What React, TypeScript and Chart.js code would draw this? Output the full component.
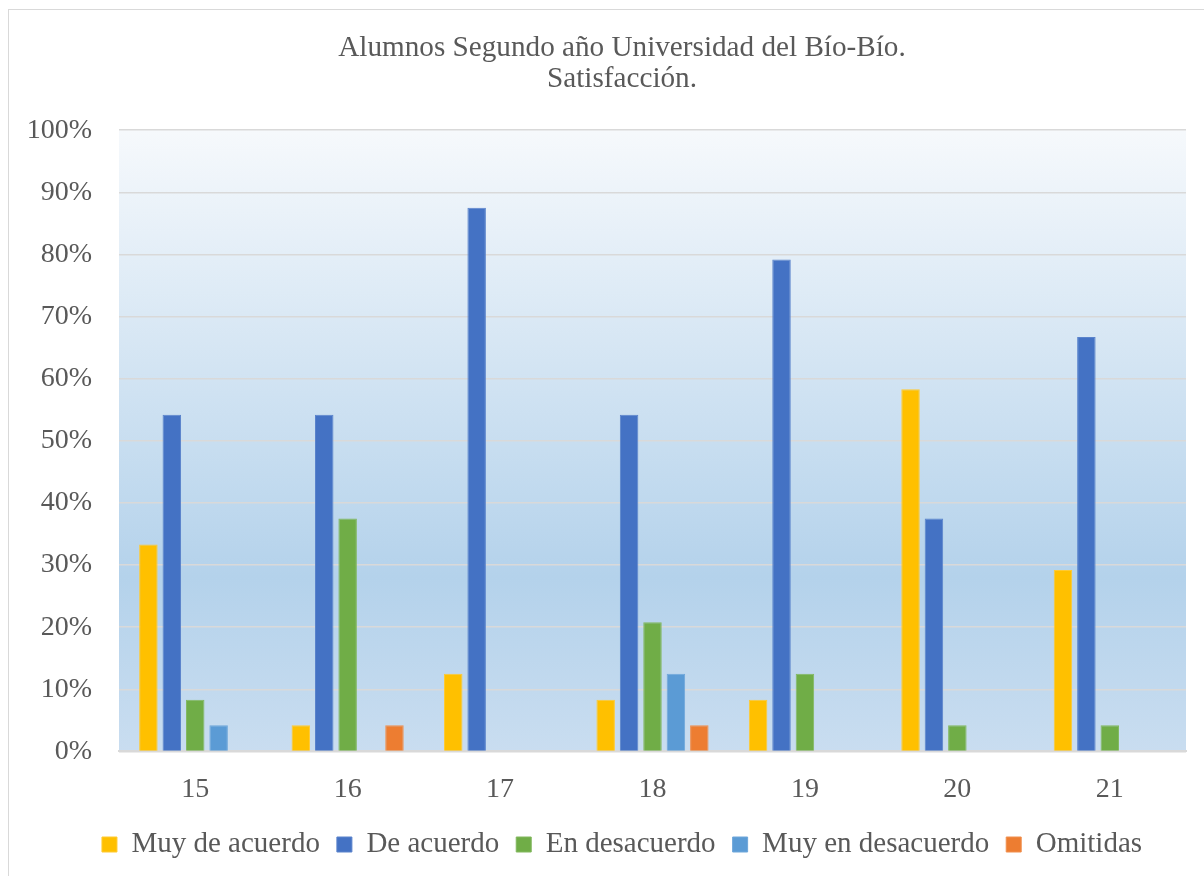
import React, { useEffect, useRef } from "react";
import { Chart, registerables } from "chart.js";

Chart.register(...registerables);

const categories = ["15", "16", "17", "18", "19", "20", "21"];
const seriesNames = ["Muy de acuerdo", "De acuerdo", "En desacuerdo", "Muy en desacuerdo", "Omitidas"];
const muyDeAcuerdo = [33.3, 4.2, 12.5, 8.3, 8.3, 58.3, 29.2];
const deAcuerdo = [54.2, 54.2, 87.5, 54.2, 79.2, 37.5, 66.7];
const enDesacuerdo = [8.3, 37.5, 0, 20.8, 12.5, 4.2, 4.2];
const muyEnDesacuerdo = [4.2, 0, 0, 12.5, 0, 0, 0];
const omitidas = [0, 4.2, 0, 4.2, 0, 0, 0];
const seriesColors = ["#FFC000", "#4472C4", "#70AD47", "#5B9BD5", "#ED7D31"];
const seriesBorders = ["#FFCA33", "#5A83CB", "#82B85F", "#6FA7DA", "#F08F4E"];
const titleLines = ["Alumnos Segundo año Universidad del Bío-Bío.", "Satisfacción."];

const FONT = "'Liberation Serif', 'Times New Roman', serif";
const TEXT = "#595959";

const plotBg = {
  id: "plotBg",
  beforeDraw(chart: any) {
    const { ctx, chartArea } = chart;
    if (!chartArea) return;
    const g = ctx.createLinearGradient(0, chartArea.top, 0, chartArea.bottom);
    g.addColorStop(0, "#f6f9fc");
    g.addColorStop(0.72, "#b4d2eb");
    g.addColorStop(1, "#c9ddf0");
    ctx.save();
    ctx.fillStyle = g;
    ctx.fillRect(chartArea.left, chartArea.top, chartArea.right - chartArea.left, chartArea.bottom - chartArea.top);
    ctx.restore();
  },
};

export default function App() {
  const ref = useRef<HTMLCanvasElement | null>(null);
  useEffect(() => {
    if (!ref.current) return;
    const values = [muyDeAcuerdo, deAcuerdo, enDesacuerdo, muyEnDesacuerdo, omitidas];
    const chart = new Chart(ref.current, {
      type: "bar",
      data: {
        labels: categories,
        datasets: seriesNames.map((name, i) => ({
          label: name,
          data: values[i],
          backgroundColor: seriesColors[i],
          borderColor: seriesBorders[i],
          borderWidth: 1,
          categoryPercentage: 0.768,
          barPercentage: 0.79,
        })),
      },
      options: {
        animation: false,
        responsive: true,
        maintainAspectRatio: false,
        layout: { padding: { left: 0, right: 0, top: 0, bottom: 7 } },
        plugins: {
          tooltip: { enabled: false },
          title: {
            display: true,
            text: titleLines,
            color: TEXT,
            font: { family: FONT, size: 29.2, weight: "normal", lineHeight: 1.065 },
            padding: { top: 23, bottom: 35 },
          },
          legend: {
            position: "bottom",
            labels: {
              color: TEXT,
              font: { family: FONT, size: 29 },
              boxWidth: 15,
              boxHeight: 15,
              padding: 17,
            },
          },
        },
        scales: {
          x: {
            afterFit: (s: any) => { s.height -= 14; },
            grid: { display: false, drawTicks: false },
            border: { display: true, color: "#d9d9d9", width: 2 },
            ticks: { color: TEXT, font: { family: FONT, size: 28 }, padding: 21 },
          },
          y: {
            min: 0,
            max: 100,
            afterFit: (s: any) => { s.width = 110; },
            grid: { color: "#d9d9d9", lineWidth: 1.5, drawTicks: false },
            border: { display: false },
            ticks: {
              stepSize: 10,
              color: TEXT,
              font: { family: FONT, size: 28 },
              padding: 27,
              callback: (v: any) => v + "%",
            },
          },
          yRightSpace: {
            position: "right",
            display: true,
            afterFit: (s: any) => { s.width = 49; },
            grid: { display: false, drawTicks: false },
            border: { display: false },
            ticks: { display: false },
          },
        },
      },
      plugins: [plotBg],
    });
    return () => chart.destroy();
  }, []);
  return (
    <div
      style={{
        position: "absolute",
        left: 8,
        top: 9,
        width: 1196,
        height: 867,
        boxSizing: "border-box",
        borderLeft: "1px solid #d9d9d9",
        borderTop: "1px solid #d9d9d9",
        background: "#fff",
        overflow: "hidden",
      }}
    >
      <div style={{ position: "relative", width: 1226, height: 866 }}>
        <canvas ref={ref} />
      </div>
    </div>
  );
}
